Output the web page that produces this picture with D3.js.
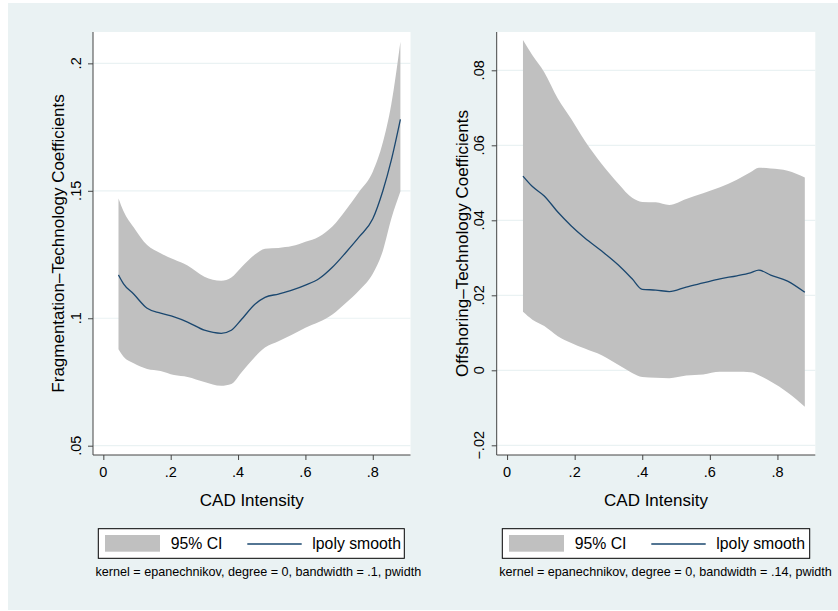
<!DOCTYPE html>
<html>
<head>
<meta charset="utf-8">
<script src="https://cdn.jsdelivr.net/npm/d3@7"></script>
<style>
  body { margin: 0; background: #fff; }
  text { font-family: "Liberation Sans", Arial, sans-serif; fill: #000; }
</style>
</head>
<body>
<script>
// left panel: fragmentation
var leftX   = [0.045, 0.06, 0.09, 0.13, 0.17, 0.21, 0.25, 0.30, 0.35, 0.38, 0.41, 0.45, 0.48, 0.52, 0.56, 0.60, 0.64, 0.68, 0.72, 0.76, 0.80, 0.83, 0.855, 0.882];
var leftFit = [0.1170, 0.1135, 0.1095, 0.1039, 0.1020, 0.1005, 0.0985, 0.0953, 0.0941, 0.0953, 0.0995, 0.1055, 0.1082, 0.1095, 0.1110, 0.1130, 0.1155, 0.1200, 0.1258, 0.1320, 0.1390, 0.1500, 0.1620, 0.1780];
var leftHi  = [0.1470, 0.1420, 0.1357, 0.1287, 0.1255, 0.1230, 0.1207, 0.1163, 0.1147, 0.1160, 0.1200, 0.1250, 0.1273, 0.1276, 0.1283, 0.1300, 0.1320, 0.1360, 0.1425, 0.1497, 0.1575, 0.1690, 0.1840, 0.2085];
var leftLo  = [0.0878, 0.0849, 0.0823, 0.0801, 0.0793, 0.0777, 0.0770, 0.0750, 0.0735, 0.0742, 0.0787, 0.0848, 0.0885, 0.0910, 0.0935, 0.0963, 0.0985, 0.1015, 0.1060, 0.1110, 0.1175, 0.1265, 0.1390, 0.1497];

// right panel: offshoring
var rightX   = [0.047, 0.075, 0.11, 0.15, 0.19, 0.23, 0.28, 0.33, 0.37, 0.40, 0.44, 0.48, 0.53, 0.58, 0.63, 0.68, 0.72, 0.745, 0.78, 0.83, 0.881];
var rightFit = [0.0518, 0.0490, 0.0465, 0.0422, 0.0385, 0.0353, 0.0318, 0.0280, 0.0244, 0.0216, 0.0214, 0.0210, 0.0222, 0.0233, 0.0244, 0.0252, 0.0260, 0.0267, 0.0254, 0.0238, 0.0208];
var rightHi  = [0.0881, 0.0840, 0.0795, 0.0725, 0.0670, 0.0612, 0.0550, 0.0497, 0.0460, 0.0449, 0.0448, 0.0441, 0.0457, 0.0472, 0.0488, 0.0508, 0.0528, 0.0540, 0.0538, 0.0532, 0.0514];
var rightLo  = [0.0156, 0.0135, 0.0118, 0.0091, 0.0073, 0.0058, 0.0040, 0.0014, -0.0007, -0.0018, -0.0020, -0.0021, -0.0014, -0.0011, -0.0004, -0.0004, -0.0005, -0.0013, -0.0030, -0.0059, -0.0097];

var xTicks = [0, 0.2, 0.4, 0.6, 0.8];
var xTickLabels = ["0", ".2", ".4", ".6", ".8"];
var leftYTicks = [0.05, 0.1, 0.15, 0.2];
var leftYTickLabels = [".05", ".1", ".15", ".2"];
var rightYTicks = [-0.02, 0, 0.02, 0.04, 0.06, 0.08];
var rightYTickLabels = ["\u2212.02", "0", ".02", ".04", ".06", ".08"];

var bgCol = "#eaf2f3", bandCol = "#c0c0c0", lineCol = "#1a476f";

var svg = d3.select("body").append("svg")
    .attr("width", 838)
    .attr("height", 611);

svg.append("rect").attr("x", 8).attr("y", 3).attr("width", 830).attr("height", 607).attr("fill", bgCol);

function drawPanel(p) {
    var x = d3.scaleLinear().domain([-0.0307, 0.912]).range([p.left, p.right]);
    var y = d3.scaleLinear().domain(p.yDomain).range([455, 32]);
    var g = svg.append("g");

    g.append("rect").attr("x", p.left).attr("y", 32)
        .attr("width", p.right - p.left).attr("height", 455 - 32).attr("fill", "#fff");

    // grid
    g.selectAll(".grid").data(p.yTicks).enter().append("line")
        .attr("x1", p.left).attr("x2", p.right)
        .attr("y1", function (d) { return y(d); })
        .attr("y2", function (d) { return y(d); })
        .attr("stroke", bgCol).attr("stroke-width", 1.2);

    var rows = p.xs.map(function (v, i) {
        return {x: v, fit: p.fit[i], hi: p.hi[i], lo: p.lo[i]};
    });

    var area = d3.area()
        .x(function (d) { return x(d.x); })
        .y0(function (d) { return y(d.lo); })
        .y1(function (d) { return y(d.hi); })
        .curve(d3.curveMonotoneX);
    g.append("path").datum(rows).attr("d", area).attr("fill", bandCol);

    var line = d3.line()
        .x(function (d) { return x(d.x); })
        .y(function (d) { return y(d.fit); })
        .curve(d3.curveMonotoneX);
    g.append("path").datum(rows).attr("d", line)
        .attr("fill", "none").attr("stroke", lineCol).attr("stroke-width", 1.3);

    // y axis
    var yAxis = d3.axisLeft(y).tickValues(p.yTicks).tickSize(5).tickFormat(function (d, i) { return ""; });
    var ya = g.append("g").attr("transform", "translate(" + p.left + ",0)").call(yAxis);
    ya.select(".domain").attr("stroke", "#444").attr("d", "M0,32V455");
    ya.selectAll(".tick line").attr("stroke", "#444");
    g.selectAll(".ylab").data(p.yTicks).enter().append("text")
        .attr("transform", function (d) { return "translate(" + (p.left - 12.5) + "," + y(d) + ") rotate(-90)"; })
        .attr("text-anchor", "middle")
        .style("font-size", "14.5px")
        .text(function (d, i) { return p.yTickLabels[i]; });

    // x axis
    var xAxis = d3.axisBottom(x).tickValues(xTicks).tickSize(5).tickFormat("");
    var xa = g.append("g").attr("transform", "translate(0,455)").call(xAxis);
    xa.select(".domain").attr("stroke", "#444").attr("d", "M" + p.left + ",0H" + p.right);
    xa.selectAll(".tick line").attr("stroke", "#444");
    g.selectAll(".xlab").data(xTicks).enter().append("text")
        .attr("x", function (d) { return x(d); })
        .attr("y", 477)
        .attr("text-anchor", "middle")
        .style("font-size", "14.5px")
        .text(function (d, i) { return xTickLabels[i]; });

    // titles
    var cx = (p.left + p.right) / 2;
    g.append("text").attr("x", cx).attr("y", 505.5).attr("text-anchor", "middle")
        .style("font-size", "17px").text("CAD Intensity");
    g.append("text")
        .attr("transform", "translate(" + (p.left - 29) + ",243.5) rotate(-90)")
        .attr("text-anchor", "middle")
        .style("font-size", "17px").text(p.yTitle);

    // legend
    var lg = g.append("g").attr("transform", "translate(" + p.legendX + ",528.7)");
    lg.append("rect").attr("width", p.legendW).attr("height", 29.6)
        .attr("fill", "#fff").attr("stroke", "#000").attr("stroke-width", 1);
    lg.append("rect").attr("x", 6.7).attr("y", 6.3).attr("width", 55).attr("height", 16.7).attr("fill", bandCol);
    lg.append("text").attr("x", 72.4).attr("y", 20.6).style("font-size", "15.8px").text("95% CI");
    lg.append("line").attr("x1", 149).attr("x2", 203.4).attr("y1", 15.3).attr("y2", 15.3)
        .attr("stroke", lineCol).attr("stroke-width", 1.3);
    lg.append("text").attr("x", 214).attr("y", 20.6).style("font-size", "15.8px").text("lpoly smooth");

    g.append("text").attr("x", p.left + 2.5).attr("y", 576)
        .style("font-size", "12.6px").text(p.note);
}

drawPanel({
    left: 93, right: 410.5,
    yDomain: [0.05 - (455 - 445.7) / 2549, 0.05 + (445.7 - 32) / 2549],
    xs: leftX, fit: leftFit, hi: leftHi, lo: leftLo,
    yTicks: leftYTicks, yTickLabels: leftYTickLabels,
    yTitle: "Fragmentation\u2013Technology Coefficients",
    legendX: 98.3, legendW: 306,
    note: "kernel = epanechnikov, degree = 0, bandwidth = .1, pwidth"
});

drawPanel({
    left: 496.7, right: 815.3,
    yDomain: [-(455 - 370.3) / 3750, (370.3 - 32) / 3750],
    xs: rightX, fit: rightFit, hi: rightHi, lo: rightLo,
    yTicks: rightYTicks, yTickLabels: rightYTickLabels,
    yTitle: "Offshoring\u2013Technology Coefficients",
    legendX: 502.3, legendW: 307.4,
    note: "kernel = epanechnikov, degree = 0, bandwidth = .14, pwidth"
});
</script>
</body>
</html>
